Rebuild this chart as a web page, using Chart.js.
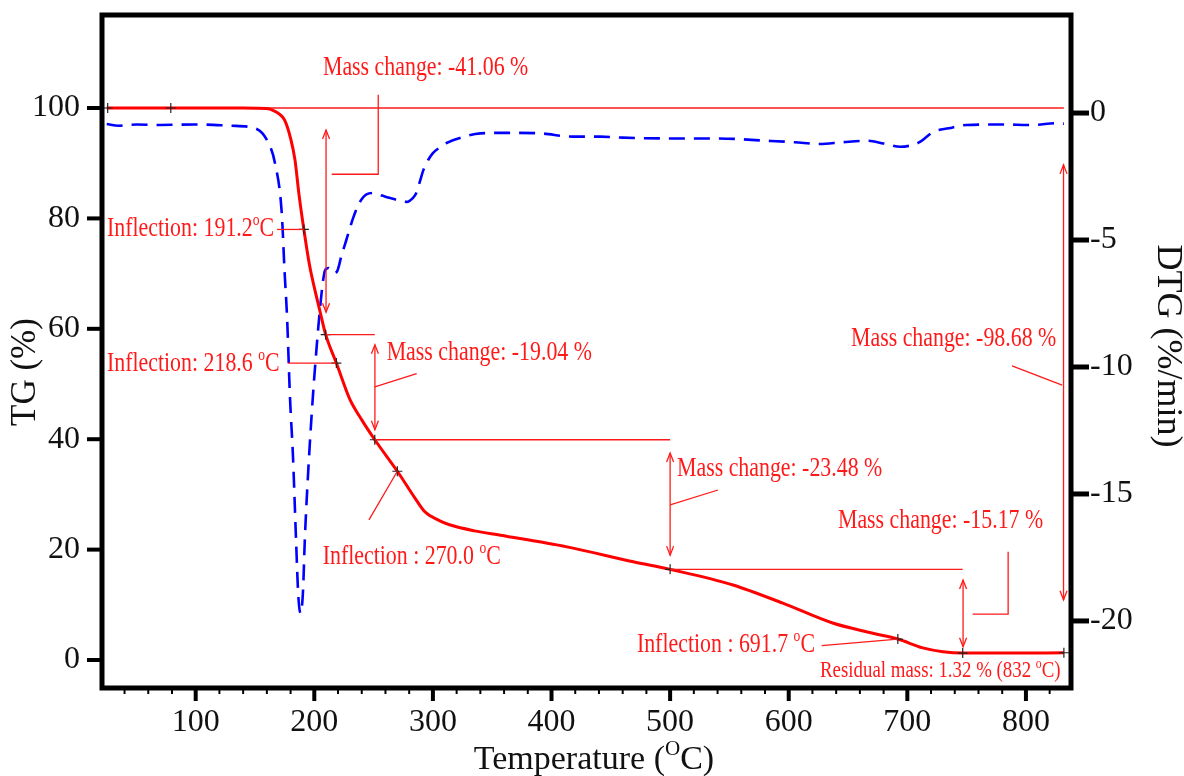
<!DOCTYPE html>
<html lang="en">
<head>
  <meta charset="UTF-8" />
  <title>TG / DTG</title>
  <script src="https://cdn.jsdelivr.net/npm/chart.js"></script>
  <style>
    body { margin: 0; background: #fff; }
    #wrap { width: 1184px; height: 776px; position: relative; }
  </style>
</head>
<body>
  <div id="wrap"><canvas id="tga"></canvas></div>

<script>
  // TG curve (temperature in C, mass in %)
  const tgTemp = [25, 60, 100, 140, 160, 166, 170, 175, 180, 183.7, 187, 191.2, 196, 200, 205, 209.6, 218.6, 230, 240, 251, 270, 285, 293, 305, 314, 335, 357, 413, 469, 500, 553, 595, 637, 670, 692, 713, 730, 746.7, 790, 832];
  const tgMass = [100, 100, 100, 100, 99.9, 99.5, 99, 97.8, 94.5, 90.6, 84.5, 78, 71.5, 67.5, 63, 58.94, 53.8, 47.2, 43.5, 39.9, 34.2, 29.3, 26.9, 25.3, 24.5, 23.4, 22.6, 20.5, 17.8, 16.42, 13.6, 10.3, 6.7, 4.9, 3.8, 2.2, 1.5, 1.25, 1.25, 1.32];

  // DTG curve (%/min)
  const dtgTemp = [25, 35, 50, 70, 100, 130, 150, 160, 167, 172.5, 175, 177, 179.5, 182, 184.6, 186.5, 188.5, 190.5, 192, 195, 198.6, 202, 205, 207.4, 209, 212, 216, 219, 223, 227, 233, 238.5, 244, 250, 257, 264, 272, 278, 283, 286, 289, 292, 296, 300, 306, 311.5, 322.8, 340, 362, 390, 418, 441, 460, 500, 540, 581, 605, 626, 645, 666, 680, 694, 705, 711, 722, 735, 750, 778, 806, 826, 832];
  const dtgRate = [-0.43, -0.5, -0.45, -0.47, -0.45, -0.5, -0.6, -1.06, -2.0, -3.9, -6.3, -8.0, -11.2, -13.5, -16.8, -19.0, -19.7, -18.8, -16.8, -14.0, -11.3, -9.2, -7.6, -6.6, -6.2, -6.1, -6.3, -6.25, -5.6, -5.0, -4.1, -3.5, -3.2, -3.15, -3.25, -3.35, -3.45, -3.5, -3.35, -3.15, -2.7, -2.24, -1.85, -1.58, -1.35, -1.18, -0.98, -0.8, -0.78, -0.8, -0.93, -0.93, -0.97, -1.0, -1.0, -1.09, -1.15, -1.22, -1.15, -1.09, -1.2, -1.33, -1.25, -1.13, -0.74, -0.6, -0.47, -0.45, -0.47, -0.4, -0.42];

  // marked points on the TG curve
  const crossTemp = [25.8, 79, 191.2, 209.6, 218.6, 251, 270, 500, 692, 746.7, 832];
  const crossMass = [100, 100, 78, 58.94, 53.8, 39.9, 34.2, 16.42, 3.8, 1.25, 1.32];

  // 100 % reference line
  const refTemp = [25, 832];
  const refMass = [100, 100];

  const xTicks = [100, 200, 300, 400, 500, 600, 700, 800];
  const tgTicks = [0, 20, 40, 60, 80, 100];
  const dtgTicks = [0, -5, -10, -15, -20];

  // annotation texts [text, temp, mass]  (^o = superscript o)
  const noteText = [
    ['Mass change: -41.06 %', 207.3, 107.2],
    ['Inflection: 191.2^oC', 25.2, 78.1],
    ['Inflection: 218.6 ^oC', 25.2, 53.6],
    ['Mass change: -19.04 %', 261, 55.6],
    ['Inflection : 270.0 ^oC', 207.1, 18.7],
    ['Mass change: -23.48 %', 505.8, 34.7],
    ['Mass change: -15.17 %', 641.5, 25.2],
    ['Inflection : 691.7 ^oC', 472, 2.8],
    ['Mass change: -98.68 %', 652.5, 58.2]
  ];
  const residualText = ['Residual mass: 1.32 % (832 ^oC)', 626.4, -2.0];

  // leader lines, each a list of [temp, mass]
  const noteLines = [
    [[253.9, 102.4], [253.9, 88.0], [214.7, 88.0]],
    [[209.6, 58.94], [251, 58.94]],
    [[251, 49.5], [286.3, 51.9]],
    [[251, 39.9], [500, 39.9]],
    [[270, 34.2], [246.1, 25.4]],
    [[500, 28.1], [540.4, 30.8]],
    [[500, 16.42], [746.7, 16.42]],
    [[785, 19.6], [785, 8.3], [755.1, 8.3]],
    [[627.8, 2.6], [692, 3.8]],
    [[788.3, 53.3], [830.5, 49.8]],
    [[168.6, 78], [191.2, 78]],
    [[177.8, 53.8], [218.6, 53.8]]
  ];
  // double arrows [temp, mass top, mass bottom]
  const noteArrows = [
    [209.9, 96.0, 63.0],
    [251.1, 57.1, 41.7],
    [500, 37.5, 19.0],
    [747, 14.5, 2.4],
    [831.7, 89.7, 10.9]
  ];

  const SERIF = "'Liberation Serif', 'Times New Roman', serif";
  const RED = '#ff1a1a';

  const pts = (xs, ys) => xs.map((x, i) => ({ x, y: ys[i] }));

  function splitSup(text) {
    const out = [];
    let buf = '';
    for (let i = 0; i < text.length; i++) {
      if (text[i] === '^') {
        if (buf) out.push({ t: buf, sup: false });
        buf = '';
        out.push({ t: text[i + 1], sup: true });
        i++;
      } else buf += text[i];
    }
    if (buf) out.push({ t: buf, sup: false });
    return out;
  }

  // draw text with superscripts, y = vertical middle
  function drawRich(ctx, text, x, y, size, align, sx) {
    ctx.save();
    ctx.translate(x, y);
    ctx.scale(sx, 1);
    ctx.textBaseline = 'middle';
    ctx.textAlign = 'left';
    const parts = splitSup(text);
    let w = 0;
    parts.forEach(p => {
      ctx.font = (p.sup ? size * 0.62 : size) + 'px ' + SERIF;
      p.w = ctx.measureText(p.t).width;
      w += p.w;
    });
    let cx = align === 'center' ? -w / 2 : align === 'right' ? -w : 0;
    parts.forEach(p => {
      ctx.font = (p.sup ? size * 0.62 : size) + 'px ' + SERIF;
      ctx.fillText(p.t, cx, p.sup ? -size * 0.3 : 0);
      cx += p.w;
    });
    ctx.restore();
  }

  function arrowHead(ctx, x, y, dir) {
    ctx.beginPath();
    ctx.moveTo(x - 3.5, y - dir * 9);
    ctx.lineTo(x, y);
    ctx.lineTo(x + 3.5, y - dir * 9);
    ctx.stroke();
  }

  const notesPlugin = {
    id: 'notes',
    afterDatasetsDraw(chart) {
      const { ctx, scales: { x, y } } = chart;
      ctx.save();
      ctx.strokeStyle = RED;
      ctx.lineWidth = 1.3;
      noteLines.forEach(line => {
        ctx.beginPath();
        line.forEach((p, i) => {
          const px = x.getPixelForValue(p[0]), py = y.getPixelForValue(p[1]);
          if (i === 0) ctx.moveTo(px, py); else ctx.lineTo(px, py);
        });
        ctx.stroke();
      });
      noteArrows.forEach(a => {
        const px = x.getPixelForValue(a[0]);
        const y0 = y.getPixelForValue(a[1]), y1 = y.getPixelForValue(a[2]);
        ctx.beginPath();
        ctx.moveTo(px, y0);
        ctx.lineTo(px, y1);
        ctx.stroke();
        arrowHead(ctx, px, y0, -1);
        arrowHead(ctx, px, y1, 1);
      });
      ctx.fillStyle = RED;
      noteText.forEach(n => {
        drawRich(ctx, n[0], x.getPixelForValue(n[1]), y.getPixelForValue(n[2]), 27, 'left', 0.81);
      });
      drawRich(ctx, residualText[0], x.getPixelForValue(residualText[1]), y.getPixelForValue(residualText[2]), 23, 'left', 0.82);
      ctx.restore();
    },
    afterDraw(chart) {
      const { ctx, chartArea: a, scales } = chart;
      ctx.save();
      ctx.strokeStyle = '#000';
      // frame
      ctx.lineWidth = 5;
      ctx.strokeRect(a.left, a.top, a.right - a.left, a.bottom - a.top);
      // x ticks, major and minor
      ctx.lineWidth = 2;
      for (let t = 40; t <= 820; t += 20) {
        if (t % 100 === 0) continue;
        const px = scales.x.getPixelForValue(t);
        ctx.beginPath(); ctx.moveTo(px, a.bottom); ctx.lineTo(px, a.bottom + 6); ctx.stroke();
      }
      ctx.lineWidth = 4;
      xTicks.forEach(t => {
        const px = scales.x.getPixelForValue(t);
        ctx.beginPath(); ctx.moveTo(px, a.bottom); ctx.lineTo(px, a.bottom + 13); ctx.stroke();
      });
      tgTicks.forEach(t => {
        const py = scales.y.getPixelForValue(t);
        ctx.beginPath(); ctx.moveTo(a.left - 15, py); ctx.lineTo(a.left, py); ctx.stroke();
      });
      ctx.lineWidth = 5;
      dtgTicks.forEach(t => {
        const py = scales.y1.getPixelForValue(t);
        ctx.beginPath(); ctx.moveTo(a.right, py); ctx.lineTo(a.right + 18, py); ctx.stroke();
      });
      // axis titles
      ctx.fillStyle = '#111';
      drawRich(ctx, 'Temperature (^OC)', 594, 760, 34, 'center', 1);
      ctx.save();
      ctx.translate(26, 372);
      ctx.rotate(-Math.PI / 2);
      drawRich(ctx, 'TG (%)', 0, 0, 35, 'center', 1);
      ctx.restore();
      ctx.save();
      ctx.translate(1167, 346);
      ctx.rotate(Math.PI / 2);
      drawRich(ctx, 'DTG (%/min)', 0, 0, 36, 'center', 1);
      ctx.restore();
      ctx.restore();
    }
  };

  const tickFont = { family: SERIF, size: 32 };
  const noPad = s => { s.paddingTop = 0; s.paddingBottom = 0; s.paddingLeft = 0; s.paddingRight = 0; };

  new Chart(document.getElementById('tga'), {
    type: 'line',
    data: {
      datasets: [
        {
          data: pts(crossTemp, crossMass), yAxisID: 'y', showLine: false,
          pointStyle: 'cross', pointRadius: 5, borderColor: '#222', borderWidth: 1.2
        },
        {
          data: pts(tgTemp, tgMass), yAxisID: 'y', borderColor: '#ff0000', borderWidth: 3,
          pointRadius: 0, cubicInterpolationMode: 'monotone'
        },
        {
          data: pts(refTemp, refMass), yAxisID: 'y', borderColor: RED, borderWidth: 1.4, pointRadius: 0
        },
        {
          data: pts(dtgTemp, dtgRate), yAxisID: 'y1', borderColor: '#0000ff', borderWidth: 2.6,
          borderDash: [16, 9], pointRadius: 0, cubicInterpolationMode: 'monotone'
        }
      ]
    },
    options: {
      responsive: true,
      maintainAspectRatio: false,
      animation: false,
      layout: { padding: { top: 15, left: 0, right: 0, bottom: 0 } },
      plugins: { legend: { display: false }, tooltip: { enabled: false } },
      scales: {
        x: {
          type: 'linear', min: 21, max: 838,
          afterBuildTicks: s => { s.ticks = xTicks.map(v => ({ value: v })); },
          afterFit: s => { s.height = 88; noPad(s); },
          grid: { display: false, drawTicks: true, tickLength: 12 },
          border: { display: false },
          ticks: { font: tickFont, color: '#111', padding: 3, maxRotation: 0 }
        },
        y: {
          position: 'left', min: -5.07, max: 116.85,
          afterBuildTicks: s => { s.ticks = tgTicks.map(v => ({ value: v })); },
          afterFit: s => { s.width = 102; noPad(s); },
          grid: { display: false, drawTicks: true, tickLength: 12 },
          border: { display: false },
          ticks: { font: tickFont, color: '#111', padding: 10 }
        },
        y1: {
          position: 'right', min: -22.64, max: 3.86,
          afterBuildTicks: s => { s.ticks = dtgTicks.map(v => ({ value: v })); },
          afterFit: s => { s.width = 113; noPad(s); },
          grid: { display: false, drawTicks: true, tickLength: 12 },
          border: { display: false },
          ticks: { font: tickFont, color: '#111', padding: 7 }
        }
      }
    },
    plugins: [notesPlugin]
  });
</script>
</body>
</html>
